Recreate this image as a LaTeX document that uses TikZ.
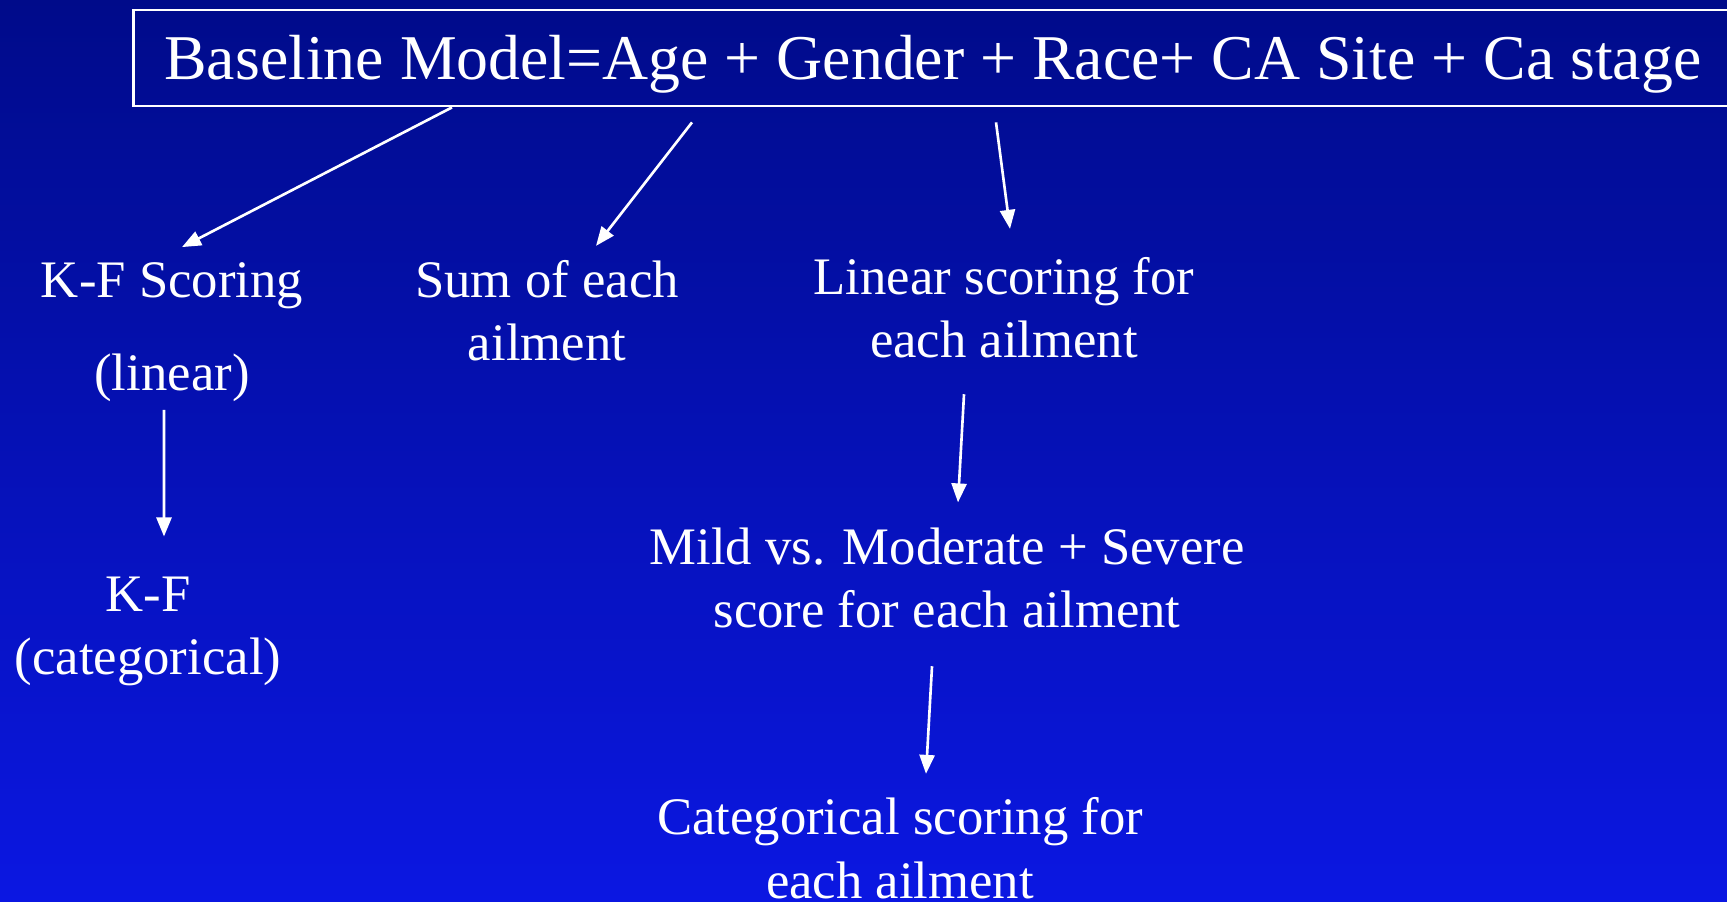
\documentclass[tikz,border=0pt]{standalone}
\usepackage{fontspec}
\setmainfont{Liberation Serif}
\usetikzlibrary{arrows.meta, positioning, calc}
\definecolor{slidetop}{RGB}{0, 11, 138}
\definecolor{slidebottom}{RGB}{11, 23, 226}

\begin{document}
\begin{tikzpicture}[
        label/.style={text=white, font=\fontsize{15}{18}\selectfont, align=center, inner sep=2pt},
        headline/.style={draw=white, line width=0.8pt, text=white, font=\fontsize{18.15}{21}\selectfont,
            text width=16.4cm, align=flush left,
            inner xsep=0.31cm, inner ysep=0pt, text height=0.70cm, text depth=0.26cm},
        arr/.style={white, line width=0.75pt, -{Triangle[length=0.19cm, width=0.15cm]}}
    ]
        \clip (0,0) rectangle (17.27,9.01);
        \shade[top color=slidetop, bottom color=slidebottom] (0,0) rectangle (17.27,9.01);

        \node[headline, anchor=base west] (title) at (1.32, 8.21)
            {Baseline Model=Age + Gender + Race+ CA Site + Ca stage};

        \node[label, anchor=base] (kf) at (1.72, 5.10) {K-F Scoring\\[0.30cm](linear)};
        \node[label, anchor=base] (sum) at (5.47, 5.40) {Sum of each\\ailment};
        \node[label, anchor=base] (lin) at (10.04, 5.43) {Linear scoring for\\each ailment};
        \node[label, anchor=base] (kfcat) at (1.48, 2.26) {K-F\\(categorical)};
        \node[label, anchor=base] (mild) at (9.47, 2.73) {Mild vs. Moderate + Severe\\score for each ailment};
        \node[label, anchor=base] (cat) at (9.00, 0.03) {Categorical scoring for\\each ailment};

        % from the model
        \draw[arr] ([xshift=3.20cm]title.south west) -- ([xshift=0.10cm, yshift=0.08cm]kf.north);
        \draw[arr] ([xshift=5.60cm, yshift=-0.15cm]title.south west) -- ([xshift=0.49cm, yshift=0.07cm]sum.north);
        \draw[arr] ([xshift=8.64cm, yshift=-0.15cm]title.south west) -- ([xshift=0.06cm, yshift=0.21cm]lin.north);

        % down the columns
        \draw[arr] ([xshift=-0.08cm]kf.south) -- ([xshift=0.16cm, yshift=0.33cm]kfcat.north);
        \draw[arr] ([xshift=-0.40cm, yshift=-0.28cm]lin.south) -- ([xshift=0.11cm, yshift=0.18cm]mild.north);
        \draw[arr] ([xshift=-0.15cm, yshift=-0.30cm]mild.south) -- ([xshift=0.26cm, yshift=0.16cm]cat.north);
    \end{tikzpicture}
\end{document}
